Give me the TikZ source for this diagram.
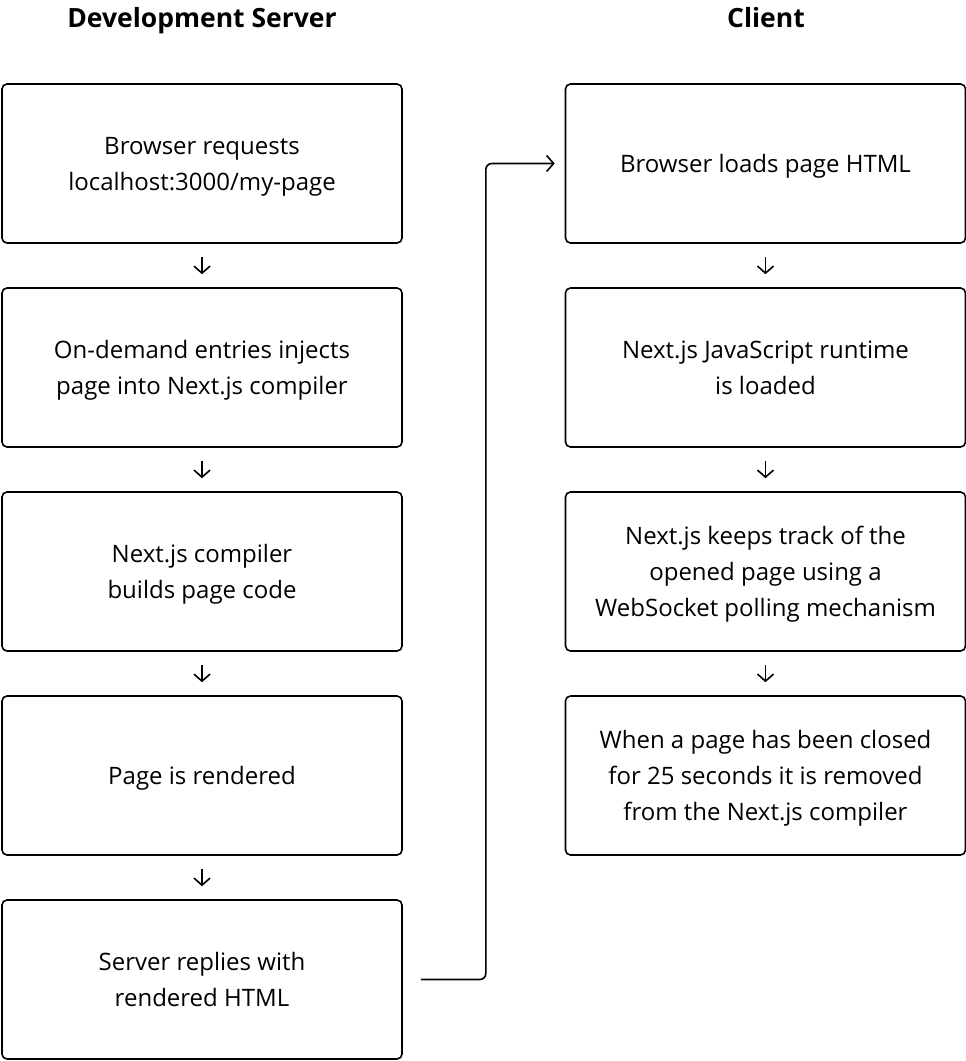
\documentclass[tikz,border=0pt]{standalone}
\usepackage{fontspec}
\setmainfont{Open Sans}
\usetikzlibrary{arrows.meta}
\newcommand\ls{\rule[-9pt]{0pt}{36pt}}
\tikzset{
  box/.style={draw=black, line width=1.6pt, rounded corners=5pt, minimum width=400pt, minimum height=159pt, align=center, inner sep=0pt, font=\fontsize{24}{36}\selectfont},
  title/.style={font=\fontsize{26.5}{30}\selectfont\bfseries, anchor=base, inner sep=0pt},
  arr/.style={draw=black, line width=1.6pt, -{Straight Barb[length=7pt,width=16pt,line width=1.6pt]}},
}
\begin{document}
\begin{tikzpicture}[x=1pt,y=-1pt]
\useasboundingbox (0,0) rectangle (966,1061);
\node[title] (t1) at (202,27) {Development Server};
\node[title] (t2) at (766,27) {Client};
\node[box] (l1) at (202,163.5) {\ls Browser requests\\\ls localhost:3000/my-page};
\node[box] (l2) at (202,367.5) {\ls On-demand entries injects\\\ls page into Next.js compiler};
\node[box] (l3) at (202,571.5) {\ls Next.js compiler\\\ls builds page code};
\node[box] (l4) at (202,775.5) {\ls Page is rendered};
\node[box] (l5) at (202,979.5) {\ls Server replies with\\\ls rendered HTML};
\node[box] (r1) at (765.5,163.5) {\ls Browser loads page HTML};
\node[box] (r2) at (765.5,367.5) {\ls Next.js JavaScript runtime\\\ls is loaded};
\node[box] (r3) at (765.5,571.5) {\ls Next.js keeps track of the\\\ls opened page using a\\\ls WebSocket polling mechanism};
\node[box] (r4) at (765.5,775.5) {\ls When a page has been closed\\\ls for 25 seconds it is removed\\\ls from the Next.js compiler};
\foreach \a/\b in {l1/l2,l2/l3,l3/l4,l4/l5,r1/r2,r2/r3,r3/r4}
  \draw[arr, shorten <=13pt, shorten >=13pt] (\a.south) -- (\b.north);
\draw[arr, rounded corners=6pt] ([xshift=18pt]l5.east) -- ++(65,0) |- ([xshift=-10pt]r1.west);
\end{tikzpicture}
\end{document}
